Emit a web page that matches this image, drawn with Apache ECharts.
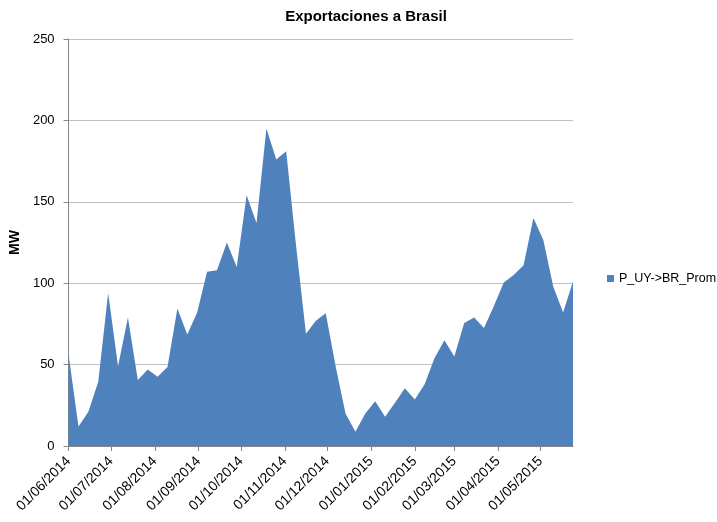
<!DOCTYPE html>
<html>
<head>
<meta charset="utf-8">
<script src="https://cdn.jsdelivr.net/npm/echarts@6/dist/echarts.min.js"></script>
<style>html,body{margin:0;padding:0;background:#fff}#c{width:717px;height:522px}</style>
</head>
<body>
<div id="c"></div>
<script>
var title = 'Exportaciones a Brasil';
var seriesName = 'P_UY->BR_Prom';
var yAxisName = 'MW';
var startDate = '2014-06-01';
var endDate = '2015-05-24';
var stepDays = 7;
var values = [56, 12, 21, 39.5, 94, 49, 79, 40.5, 47, 42.5, 48.5, 84.5, 68.5, 82, 107, 108, 125, 110, 154, 137, 195, 176, 181, 123, 69, 77, 81.5, 49, 20, 8.8, 20, 27.5, 18, 26.5, 35.5, 28.5, 38, 54, 65, 55, 75.5, 79, 72.5, 86, 100.5, 105, 111, 140, 126.5, 98, 82, 101];
var yTicks = [0, 50, 100, 150, 200, 250];

var t0 = new Date(startDate + 'T00:00:00Z').getTime();
var DAY = 86400000;
var data = values.map(function (v, i) { return [t0 + i * stepDays * DAY, v]; });

var chart = echarts.init(document.getElementById('c'));
var font = 'Liberation Sans';
chart.setOption({
  animation: false,
  textStyle: { fontFamily: font },
  title: {
    text: title, left: 361, top: 4, textAlign: 'center',
    textStyle: { fontFamily: font, fontSize: 15, fontWeight: 'bold', color: '#000' }
  },
  legend: {
    data: [seriesName], orient: 'vertical', left: 602, top: 267,
    icon: 'rect', itemWidth: 7, itemHeight: 7, itemGap: 4,
    textStyle: { fontFamily: font, fontSize: 12.5, color: '#000' }
  },
  grid: { left: 68, right: 144, top: 39, bottom: 76, containLabel: false },
  xAxis: {
    type: 'time',
    min: t0,
    max: new Date(endDate + 'T00:00:00Z').getTime(),
    minInterval: 28 * DAY,
    maxInterval: 31 * DAY,
    splitLine: { show: false },
    axisLine: { lineStyle: { color: '#868686' } },
    axisTick: { show: true, length: 5, lineStyle: { color: '#868686' } },
    axisLabel: {
      rotate: 45, fontSize: 14, color: '#000', fontFamily: font, margin: 13,
      formatter: function (val) {
        var d = new Date(val);
        var dd = ('0' + d.getUTCDate()).slice(-2);
        var mm = ('0' + (d.getUTCMonth() + 1)).slice(-2);
        return dd + '/' + mm + '/' + d.getUTCFullYear();
      },
      showMinLabel: true, showMaxLabel: false, hideOverlap: false
    }
  },
  yAxis: {
    type: 'value', min: yTicks[0], max: yTicks[yTicks.length - 1], interval: yTicks[1] - yTicks[0],
    name: yAxisName, nameLocation: 'middle', nameRotate: 90, nameGap: 41,
    nameTextStyle: { fontFamily: font, fontSize: 14, fontWeight: 'bold', color: '#000' },
    axisLine: { show: true, lineStyle: { color: '#868686' } },
    axisTick: { show: true, length: 5, lineStyle: { color: '#868686' } },
    axisLabel: { fontSize: 13, color: '#000', fontFamily: font, margin: 14 },
    splitLine: { lineStyle: { color: '#c0c0c0' } }
  },
  series: [{
    name: seriesName, type: 'line', data: data,
    symbol: 'none', lineStyle: { width: 0 },
    itemStyle: { color: '#4f81bd' },
    areaStyle: { color: '#4f81bd', opacity: 1 }
  }]
});
</script>
</body>
</html>
